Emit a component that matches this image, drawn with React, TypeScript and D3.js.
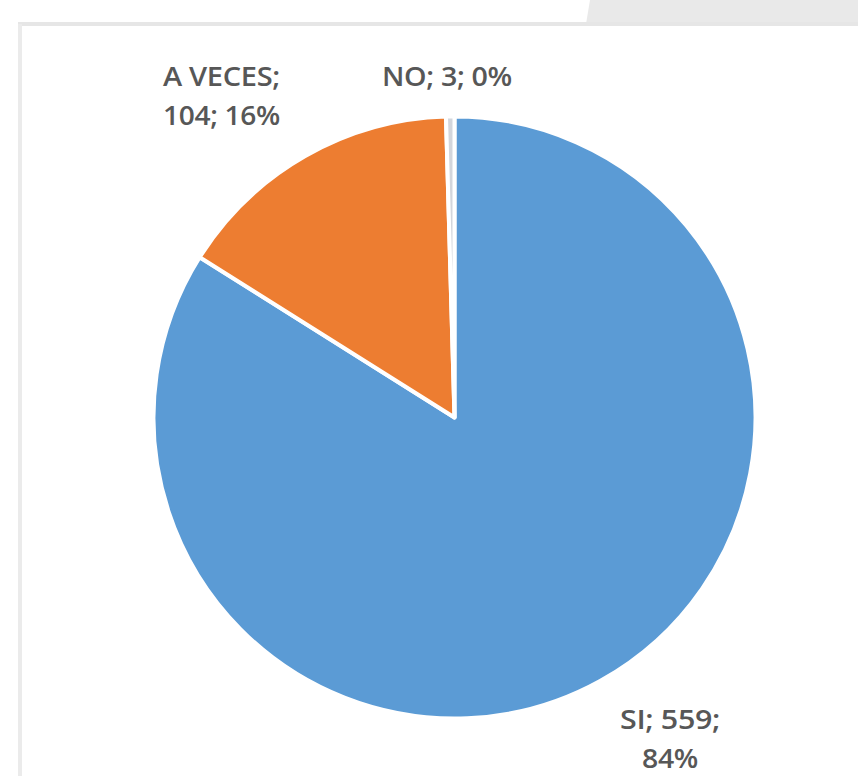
import React from "react";
import * as d3 from "d3";

const categories = ["SI", "A VECES", "NO"];
const values = [559, 104, 3];
const percents = ["84%", "16%", "0%"];
const colors = ["#5B9BD5", "#ED7D31", "#D3D6DC"];

const W = 858;
const H = 776;

export default function App() {
  const cx = 454.5;
  const cy = 417.5;
  const r = 301;
  const pie = d3.pie<number>().sort(null).value((d) => d)(values);
  const arc = d3.arc<d3.PieArcDatum<number>>().innerRadius(0).outerRadius(r);
  const font = "'Open Sans', sans-serif";
  const labelStyle = { fontFamily: font, fontSize: 27, fontWeight: 600, fill: "#575757", letterSpacing: -0.3 } as const;
  return (
    <svg width={W} height={H} style={{ position: "absolute", left: 0, top: 0, background: "#fff" }}>
      <rect x={0} y={0} width={W} height={H} fill="#ffffff" />
      <path d={`M590,0 L${W},0 L${W},24 L586,24 Z`} fill="#e9e9e9" />
      <line x1={18} y1={24} x2={W} y2={24} stroke="#e6e6e6" strokeWidth={4} />
      <line x1={20} y1={24} x2={20} y2={H} stroke="#ebebeb" strokeWidth={4} />
      <g transform={`translate(${cx},${cy})`}>
        {pie.map((p, i) => (
          <path key={categories[i]} d={arc(p) || ""} fill={colors[i]} stroke="#ffffff" strokeWidth={4} strokeLinejoin="round" />
        ))}
      </g>
      <text {...labelStyle} x={163} y={86} textLength={117} lengthAdjust="spacingAndGlyphs">{`${categories[1]};`}</text>
      <text {...labelStyle} x={163} y={125} textLength={117} lengthAdjust="spacingAndGlyphs">{`${values[1]}; ${percents[1]}`}</text>
      <text {...labelStyle} x={382} y={86} textLength={130} lengthAdjust="spacingAndGlyphs">{`${categories[2]}; ${values[2]}; ${percents[2]}`}</text>
      <text {...labelStyle} x={620} y={729} textLength={100} lengthAdjust="spacingAndGlyphs">{`${categories[0]}; ${values[0]};`}</text>
      <text {...labelStyle} x={642} y={768} textLength={56} lengthAdjust="spacingAndGlyphs">{percents[0]}</text>
    </svg>
  );
}
